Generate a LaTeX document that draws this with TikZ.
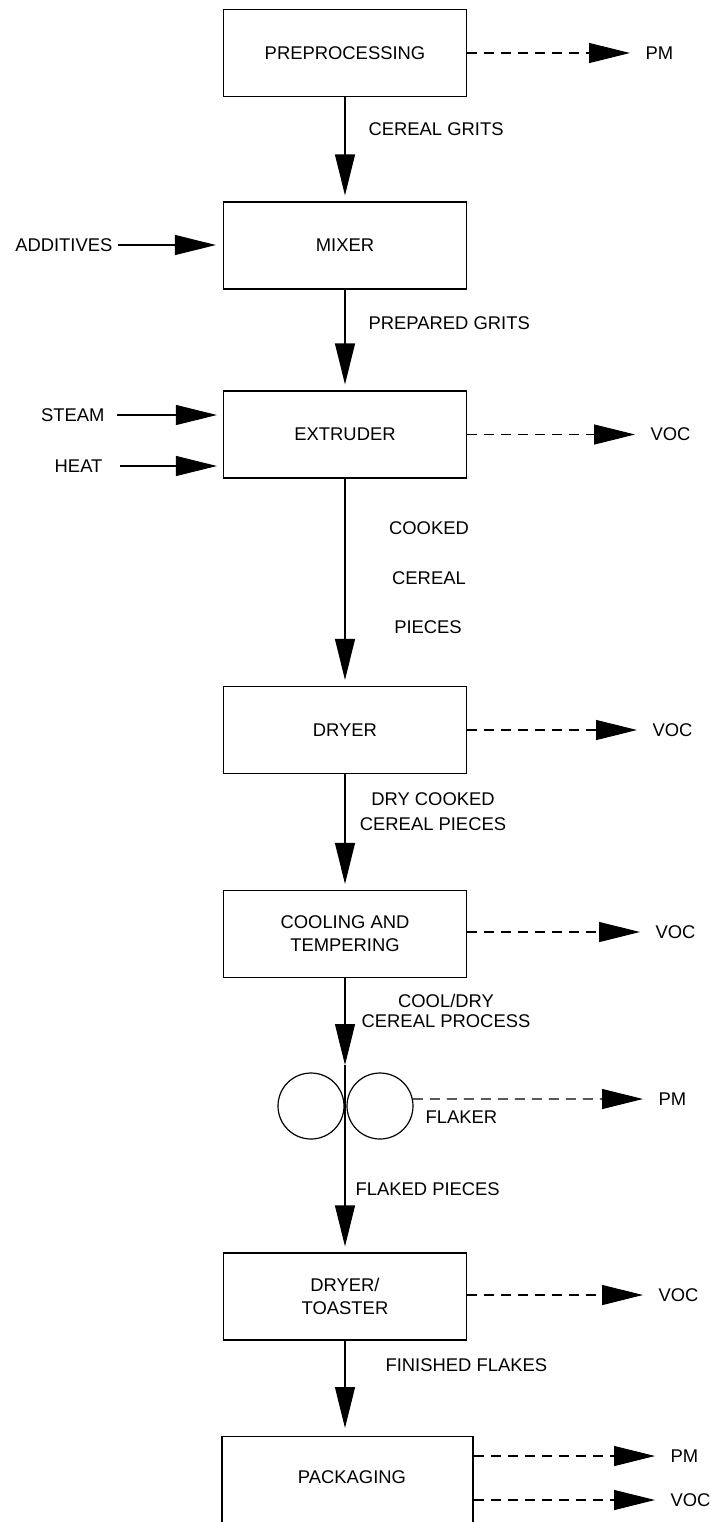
\documentclass[tikz,border=0pt]{standalone}
\usepackage{fontspec}
\setmainfont{Liberation Sans}
\usetikzlibrary{arrows.meta}

\begin{document}
\begin{tikzpicture}[x=0.5pt, y=-0.5pt, line width=0.6pt,
    font=\fontsize{9.2}{11.5}\selectfont,
    procbox/.style={draw, minimum width=121.5pt, minimum height=43.5pt, align=center, inner sep=0pt},
    roll/.style={draw, circle, minimum size=33pt, inner sep=0pt},
    flow/.style={-{Triangle[length=20.5pt,width=10pt]}},
    emit/.style={flow, dash pattern=on 5pt off 3.5pt, shorten >=7.5pt},
    lbl/.style={inner sep=0pt, anchor=west}]

    % Fix the size of the sheet
    \clip (0,0) rectangle (711,1522);

    % Draw the process boxes
    \foreach \name/\y/\txt in {pre/53/PREPROCESSING, mix/245.5/MIXER, ext/434.5/EXTRUDER,
        dry/730/DRYER, cool/934/{COOLING AND\\TEMPERING}, toast/1296.5/{DRYER/\\TOASTER}} {
        \node[procbox] (\name) at (345,\y) {\txt};
    }
    \node[procbox, minimum width=125.5pt, minimum height=100pt, anchor=north] (pack) at (347.5,1436) {};
    \node (packtxt) at (352,1477) {PACKAGING};

    % The flaker rolls
    \node[roll] (flkL) at (311,1106) {};
    \node[roll] (flkR) at (380,1106) {};
    \coordinate (nip) at (345,1065);
    \node[lbl] (flkname) at (425,1117) {FLAKER};

    % Main product flow
    \foreach \a/\b in {pre/mix, mix/ext, ext/dry, dry/cool} {
        \draw[flow, shorten >=3pt] (\a.south) -- (\b.north);
    }
    \draw[flow] (cool.south) -- (nip);
    \draw[flow, shorten >=3pt] (nip) -- (toast.north);
    \draw[flow, shorten >=4pt] (toast.south) -- (toast.south |- pack.north);

    % Label the streams
    \node[lbl] (grits) at (368,129) {CEREAL GRITS};
    \node[lbl] (prep) at (368,323) {PREPARED GRITS};
    \node[lbl, anchor=center] (cooked) at (429,528) {COOKED};
    \node[lbl, anchor=center] (cereal) at (429,578) {CEREAL};
    \node[lbl, anchor=center] (pieces) at (428,627) {PIECES};
    \node[inner sep=0pt, align=center] (drycook) at (433,811.5) {DRY COOKED\\[1pt]CEREAL PIECES};
    \node[inner sep=0pt, align=center] (cooldry) at (446,1011) {COOL/DRY\\[-1.5pt]CEREAL PROCESS};
    \node[lbl] (flaked) at (355,1189) {FLAKED PIECES};
    \node[lbl] (finish) at (385,1365) {FINISHED FLAKES};

    % Inputs on the left
    \node[lbl, anchor=east] (add) at (113,245) {ADDITIVES};
    \node[lbl, anchor=east] (steam) at (105,415) {STEAM};
    \node[lbl, anchor=east] (heat) at (103,466) {HEAT};
    \draw[flow, shorten <=2.5pt, shorten >=3.5pt] (add.east) -- (mix.west |- add.east);
    \draw[flow, shorten <=6pt, shorten >=3pt] (steam.east) -- (ext.west |- steam.east);
    \draw[flow, shorten <=8.5pt, shorten >=3pt] (heat.east) -- (ext.west |- heat.east);

    % Emissions on the right
    \node[lbl] (pm1) at (645,53) {PM};
    \node[lbl] (voc1) at (650,434.5) {VOC};
    \node[lbl] (voc2) at (652,730) {VOC};
    \node[lbl] (voc3) at (655,932) {VOC};
    \node[lbl] (pm2) at (658,1099) {PM};
    \node[lbl] (voc4) at (658,1295) {VOC};
    \node[lbl] (pm3) at (670,1456) {PM};
    \node[lbl] (voc5) at (670,1500) {VOC};
    \foreach \src/\dst in {pre/pm1, ext/voc1, dry/voc2, cool/voc3, toast/voc4, pack/pm3, pack/voc5} {
        \draw[emit] (\src.east |- \dst.west) -- (\dst.west);
    }
    \draw[emit] (flkR.12) -- (pm2.west);
\end{tikzpicture}
\end{document}
